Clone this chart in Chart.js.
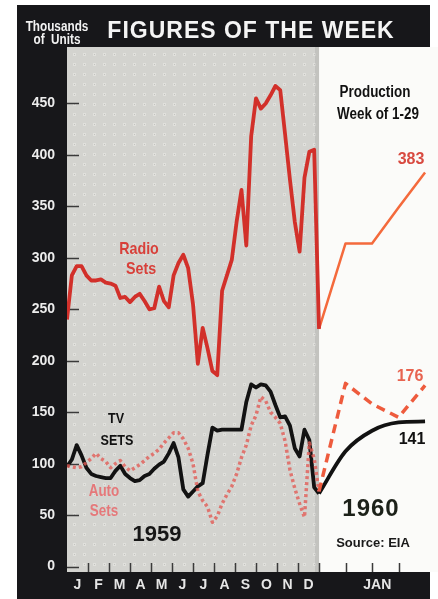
<!DOCTYPE html>
<html>
<head>
<meta charset="utf-8">
<title>Figures of the Week</title>
<script src="https://cdn.jsdelivr.net/npm/chart.js@4.4.1/dist/chart.umd.min.js"></script>
<style>
  html, body { margin: 0; padding: 0; background: #ffffff; }
  #wrap { position: relative; width: 438px; height: 599px; overflow: hidden; }
  #frame { position: absolute; left: 17px; top: 5px; width: 413px; height: 594px; background: #17171a; }
  #c { position: absolute; left: 0; top: 0; }
  .t { position: absolute; white-space: nowrap; line-height: 1; transform: translate(-50%, -50%);
       font-family: 'Liberation Sans', Arial, sans-serif; font-weight: bold; }
  .n { transform: translate(-50%, -50%) scaleX(0.84); }
</style>
</head>
<body>
<div id="wrap">
  <div id="frame"></div>
  <canvas id="c" width="438" height="599"></canvas>

  <div class="t n" style="left:57px;top:26px;font-size:14px;color:#f2f2f2;">Thousands</div>
  <div class="t n" style="left:57px;top:39px;font-size:14px;color:#f2f2f2;">of&nbsp;&nbsp;Units</div>
  <div class="t" style="left:251px;top:30px;font-size:23px;letter-spacing:1px;color:#f4f4f4;">FIGURES OF THE WEEK</div>

  <div class="t n" style="left:139px;top:248px;font-size:17px;color:#d8403a;">Radio</div>
  <div class="t n" style="left:141px;top:268px;font-size:17px;color:#d8403a;">Sets</div>
  <div class="t n" style="left:116px;top:417px;font-size:15px;color:#111;">TV</div>
  <div class="t n" style="left:117px;top:439px;font-size:15px;color:#111;">SETS</div>
  <div class="t n" style="left:104px;top:491px;font-size:16px;color:#e5787a;">Auto</div>
  <div class="t n" style="left:104px;top:511px;font-size:16px;color:#e5787a;">Sets</div>
  <div class="t" style="left:157px;top:534px;font-size:22px;color:#161616;">1959</div>
  <div class="t" style="left:371px;top:508px;font-size:24px;letter-spacing:1px;color:#1c2119;">1960</div>
  <div class="t" style="left:373px;top:542px;font-size:13px;color:#1a1a1a;">Source: EIA</div>
  <div class="t n" style="left:375px;top:92px;font-size:16px;color:#111;">Production</div>
  <div class="t n" style="left:378px;top:114px;font-size:16px;color:#111;">Week of 1-29</div>
  <div class="t" id="lblRadio" style="left:411px;top:159px;font-size:16px;color:#d84a40;"></div>
  <div class="t" id="lblAuto" style="left:410px;top:376px;font-size:16px;color:#e86450;"></div>
  <div class="t" id="lblTv" style="left:412px;top:439px;font-size:16px;color:#111;"></div>
</div>

<script>
// Weekly production, thousands of units
const MONTHS = ['J', 'F', 'M', 'A', 'M', 'J', 'J', 'A', 'S', 'O', 'N', 'D'];
const JAN_LABEL = 'JAN';
const Y_TICKS = [0, 50, 100, 150, 200, 250, 300, 350, 400, 450];

// 1959, one reading per week (53 readings, weeks 0..52)
const RADIO_1959 = [240, 283, 292, 292, 283, 278, 278, 279, 276, 275,
                    273, 261, 262, 257, 262, 265, 258, 250, 251, 272,
                    258, 252, 283, 295, 303, 290, 255, 197, 232, 212,
                    190, 186, 268, 283, 298, 335, 366, 312, 418, 455,
                    445, 450, 458, 467, 463, 420, 376, 335, 306, 378,
                    403, 405, 231];
const TV_1959 = [97, 104, 118, 108, 96, 90, 88, 87, 86, 86,
                 93, 98, 90, 86, 83, 84, 88, 90, 95, 99,
                 102, 110, 120, 106, 75, 68, 73, 78, 81, 109,
                 135, 132, 133, 133, 133, 133, 133, 160, 177, 174,
                 177, 176, 170, 157, 145, 146, 137, 115, 107, 133,
                 123, 77, 71];
const AUTO_1959 = [98, 97, 96, 97, 101, 105, 110, 105, 102, 96,
                   100, 103, 97, 93, 96, 99, 103, 107, 110, 114,
                   120, 125, 130, 130, 124, 115, 100, 73, 64, 58,
                   43, 49, 61, 70, 78, 90, 106, 118, 137, 147,
                   165, 161, 150, 145, 139, 122, 94, 76, 61, 48,
                   120, 105, 73];

// January 1960, weekly through the week of 1-29 (first reading shared with 1959)
const RADIO_1960 = [231, 314, 314, 349, 383];
const TV_1960 = [71, 112, 132, 140, 141];
const AUTO_1960 = [73, 178, 158, 145, 176];

const LAST_1959_WEEK = 52;
const JAN_WEEK_SPAN = 5.47;   // January weeks get a wider spacing than 1959 weeks
const X_MAX = 74.9;

const pts1959 = arr => arr.map((v, i) => ({ x: i, y: v }));
const pts1960 = arr => arr.map((v, i) => ({ x: LAST_1959_WEEK + i * JAN_WEEK_SPAN, y: v }));

const monthCentres = MONTHS.map((m, i) => (i + 0.5) * LAST_1959_WEEK / 12);
const labelValues = monthCentres.concat([LAST_1959_WEEK + 2.2 * JAN_WEEK_SPAN]);
const labelTexts = MONTHS.concat([JAN_LABEL]);
const bottomTicks = MONTHS.map((m, i) => (i + 1) * LAST_1959_WEEK / 12)
  .concat([1, 2, 3].map(k => LAST_1959_WEEK + k * JAN_WEEK_SPAN));

document.getElementById('lblRadio').textContent = RADIO_1960[RADIO_1960.length - 1];
document.getElementById('lblAuto').textContent = AUTO_1960[AUTO_1960.length - 1];
document.getElementById('lblTv').textContent = TV_1960[TV_1960.length - 1];

function halftone(ctx) {
  const c = document.createElement('canvas');
  c.width = 10; c.height = 10;
  const g = c.getContext('2d');
  g.fillStyle = '#d3d3cf'; g.fillRect(0, 0, 10, 10);
  g.fillStyle = '#e0e0dc'; g.fillRect(3, 3, 3, 3);
  g.fillStyle = '#c2c2be'; g.fillRect(4, 4, 1, 1);
  return ctx.createPattern(c, 'repeat');
}

const panels = {
  id: 'panels',
  beforeDraw(chart) {
    const { ctx, chartArea: a, scales: { x } } = chart;
    const split = x.getPixelForValue(LAST_1959_WEEK);
    ctx.save();
    ctx.fillStyle = halftone(ctx);
    ctx.fillRect(a.left, a.top, split - a.left, a.bottom - a.top);
    ctx.fillStyle = 'rgba(120,120,120,0.18)';
    ctx.fillRect(split - 4, a.top, 4, a.bottom - a.top);
    ctx.fillStyle = '#fbfbf9';
    ctx.fillRect(split, a.top, chart.width - split, a.bottom - a.top);
    ctx.restore();
  },
  beforeDatasetsDraw(chart) {
    const { ctx, chartArea: a, scales: { x, y } } = chart;
    ctx.save();
    ctx.strokeStyle = '#3a3a3a';
    ctx.lineWidth = 1.5;
    ctx.beginPath();
    Y_TICKS.forEach(v => {
      const py = Math.round(y.getPixelForValue(v)) + 0.5;
      ctx.moveTo(a.left, py); ctx.lineTo(a.left + 12, py);
    });
    bottomTicks.forEach(v => {
      const px = Math.round(x.getPixelForValue(v)) + 0.5;
      ctx.moveTo(px, a.bottom - 9); ctx.lineTo(px, a.bottom);
    });
    ctx.stroke();
    ctx.restore();
  }
};

const AXIS_FONT = { family: "'Liberation Sans', Arial, sans-serif", weight: 'bold', size: 14 };
const MONTH_FONT = { family: "'Liberation Sans', Arial, sans-serif", weight: 'bold', size: 14 };

new Chart(document.getElementById('c'), {
  type: 'line',
  data: {
    datasets: [
      { data: pts1959(AUTO_1959), borderColor: 'rgba(226,92,86,0.8)', borderWidth: 3.5, borderDash: [3, 3] },
      { data: pts1960(AUTO_1960), borderColor: '#ee5b3d', borderWidth: 3.5, borderDash: [9, 6] },
      { data: pts1959(TV_1959), borderColor: '#121212', borderWidth: 3.8 },
      { data: pts1960(TV_1960), borderColor: '#121212', borderWidth: 3.8, cubicInterpolationMode: 'monotone' },
      { data: pts1959(RADIO_1959), borderColor: '#d2302a', borderWidth: 3.8 },
      { data: pts1960(RADIO_1960), borderColor: '#f46a3c', borderWidth: 2.5 }
    ]
  },
  options: {
    responsive: false,
    animation: false,
    devicePixelRatio: 1,
    layout: { padding: { left: 17, top: 47, right: 8, bottom: 0 } },
    elements: { point: { radius: 0 }, line: { tension: 0, borderJoinStyle: 'round', fill: false } },
    plugins: { legend: { display: false }, tooltip: { enabled: false }, title: { display: false } },
    scales: {
      x: {
        type: 'linear', min: 0, max: X_MAX,
        afterBuildTicks: s => { s.ticks = labelValues.map(v => ({ value: v })); },
        afterFit: s => { s.height = 27; },
        grid: { display: false, drawTicks: false },
        border: { display: false },
        ticks: { autoSkip: false, maxRotation: 0, padding: 5, color: '#e6e6e6', font: MONTH_FONT,
                 callback: (v, i) => labelTexts[i] }
      },
      y: {
        min: -5.3, max: 504.9,
        afterBuildTicks: s => { s.ticks = Y_TICKS.map(v => ({ value: v })); },
        afterFit: s => { s.width = 50; },
        grid: { display: false, drawTicks: false },
        border: { display: false },
        ticks: { padding: 12, color: '#ececec', font: AXIS_FONT }
      }
    }
  },
  plugins: [panels]
});
</script>
</body>
</html>
